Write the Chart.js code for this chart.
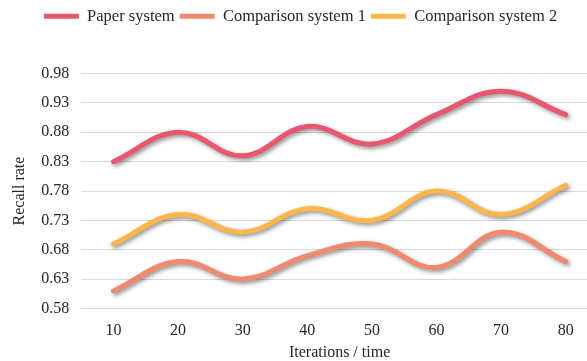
<!DOCTYPE html>
<html>
<head>
<meta charset="utf-8">
<script src="https://cdn.jsdelivr.net/npm/chart.js@4.4.1/dist/chart.umd.min.js"></script>
<style>
  html, body { margin: 0; padding: 0; background: #fff; overflow: hidden; }
  #wrap { width: 587px; height: 361px; overflow: hidden; position: relative; }
  #box { width: 600px; height: 361px; position: absolute; left: 0; top: 0; }
</style>
</head>
<body>
<div id="wrap"><div id="box"><canvas id="c"></canvas></div></div>
<script>
const categories = ['10', '20', '30', '40', '50', '60', '70', '80'];
const paperSystem = [0.83, 0.88, 0.84, 0.89, 0.86, 0.91, 0.95, 0.91];
const comparison1 = [0.61, 0.66, 0.63, 0.67, 0.69, 0.65, 0.71, 0.66];
const comparison2 = [0.69, 0.74, 0.71, 0.75, 0.73, 0.78, 0.74, 0.79];
const yTickValues = [0.58, 0.63, 0.68, 0.73, 0.78, 0.83, 0.88, 0.93, 0.98];

const FONT = "'Liberation Serif', 'Times New Roman', serif";
const TEXT = '#262626';

const shadowPlugin = {
  id: 'lineShadow',
  beforeDatasetDraw(chart) {
    const ctx = chart.ctx;
    ctx.save();
    ctx.shadowColor = 'rgba(0,0,0,0.45)';
    ctx.shadowBlur = 4;
    ctx.shadowOffsetX = 2;
    ctx.shadowOffsetY = 2;
  },
  afterDatasetDraw(chart) { chart.ctx.restore(); }
};

const legendPlacement = {
  id: 'legendPlacement',
  beforeLayout(chart) {
    const lg = chart.legend;
    if (lg && !lg._patched) {
      const orig = lg.fit;
      lg.fit = function () { orig.call(this); this.height += 39; };
      lg._patched = true;
    }
  },
  afterLayout(chart) {
    const lg = chart.legend;
    if (lg) { lg.right = 601; lg.width = 601 - lg.left; }
  }
};

function ds(label, data, color) {
  return {
    label, data,
    borderColor: color, backgroundColor: color,
    borderWidth: 5, borderCapStyle: 'round', borderJoinStyle: 'round',
    tension: 0.4, pointRadius: 0, pointHoverRadius: 0, fill: false
  };
}

new Chart(document.getElementById('c'), {
  type: 'line',
  data: {
    labels: categories,
    datasets: [
      ds('Paper system', paperSystem, '#E9566F'),
      ds('Comparison system 1', comparison1, '#F0896E'),
      ds('Comparison system 2', comparison2, '#FDB54C')
    ]
  },
  options: {
    responsive: true,
    maintainAspectRatio: false,
    animation: false,
    layout: { padding: { left: 0, right: 2, top: 3, bottom: 0 } },
    plugins: {
      legend: {
        position: 'top',
        align: 'center',
        labels: {
          usePointStyle: true,
          pointStyle: 'line',
          pointStyleWidth: 35,
          boxHeight: 16,
          padding: 5,
          color: TEXT,
          font: { family: FONT, size: 16.5 }
        }
      },
      tooltip: { enabled: false }
    },
    scales: {
      x: {
        offset: true,
        grid: { display: false, drawTicks: false },
        border: { display: false },
        ticks: { color: TEXT, font: { family: FONT, size: 16 }, padding: 13, maxRotation: 0 },
        title: { display: true, text: 'Iterations / time', color: TEXT, font: { family: FONT, size: 16 }, padding: { top: -11, bottom: -1 } }
      },
      y: {
        min: 0.58, max: 0.98,
        afterBuildTicks: axis => { axis.ticks = yTickValues.map(v => ({ value: v })); },
        grid: { color: '#d9d9d9', lineWidth: 1, drawTicks: false },
        border: { display: false },
        ticks: { color: TEXT, font: { family: FONT, size: 16 }, padding: 12, callback: v => Number(v).toFixed(2) },
        title: { display: true, text: 'Recall rate', color: TEXT, font: { family: FONT, size: 16 }, padding: { top: 10, bottom: 0 } }
      }
    }
  },
  plugins: [shadowPlugin, legendPlacement]
});
</script>
</body>
</html>
